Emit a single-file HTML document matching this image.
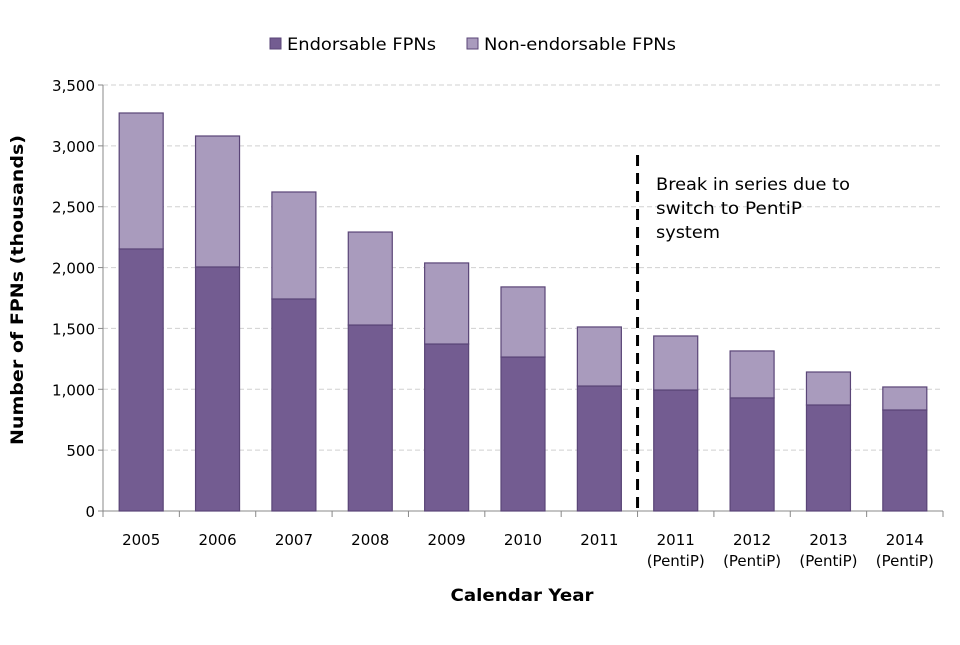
<!DOCTYPE html>
<html><head><meta charset="utf-8"><style>
body{margin:0;background:#fff;font-family:"Liberation Sans","DejaVu Sans",sans-serif}
svg text{font-family:"DejaVu Sans","Liberation Sans",sans-serif}
</style></head><body>
<svg id="c" width="960" height="640" viewBox="0 0 960 640"></svg>
<script>
const categories=["2005","2006","2007","2008","2009","2010","2011","2011|(PentiP)","2012|(PentiP)","2013|(PentiP)","2014|(PentiP)"];
const endorsable=[2153,2005,1742,1528,1372,1265,1027,994,929,871,830];
const nonEndorsable=[1117,1076,879,764,666,576,485,444,386,271,189];
const yTicks=[0,500,1000,1500,2000,2500,3000,3500];
const yTickLabels=["0","500","1,000","1,500","2,000","2,500","3,000","3,500"];
const svg=document.getElementById('c');
const NS="http://www.w3.org/2000/svg";
const X0=103,X1=943,Y0=511,Y1=85,YMAX=3500;
const step=(X1-X0)/categories.length;
const y=v=>Y0-(v/YMAX)*(Y0-Y1);
const xc=i=>X0+step*(i+0.5);
function mk(t,a,txt){const e=document.createElementNS(NS,t);for(const k in a)e.setAttribute(k,a[k]);if(txt!=null)e.textContent=txt;svg.appendChild(e);return e;}
yTicks.forEach((v,i)=>{
  if(v>0){const g=mk('line',{x1:X0,x2:X1,y1:y(v),y2:y(v),stroke:'#d0d0d0','stroke-dasharray':'5,3'});
  
  }
  const t=mk('text',{x:X0-8,y:y(v)+6,'text-anchor':'end','font-size':15,fill:'#000'},yTickLabels[i]);
  
  
});
mk('line',{x1:X0,x2:X0,y1:Y1,y2:Y0,stroke:'#888'});
mk('line',{x1:X0,x2:X1,y1:Y0,y2:Y0,stroke:'#888'});
for(let i=0;i<=categories.length;i++){mk('line',{x1:X0+step*i,x2:X0+step*i,y1:Y0,y2:Y0+6,stroke:'#888'});}
yTicks.forEach(v=>mk('line',{x1:X0-5,x2:X0,y1:y(v),y2:y(v),stroke:'#888'}));
const bw=44;
categories.forEach((c,i)=>{
  const e=mk('rect',{x:xc(i)-bw/2,y:y(endorsable[i]),width:bw,height:Y0-y(endorsable[i]),fill:'#735c91',stroke:'#5a4577','stroke-width':1.2});
  
  
  const tot=endorsable[i]+nonEndorsable[i];
  const n=mk('rect',{x:xc(i)-bw/2,y:y(tot),width:bw,height:y(endorsable[i])-y(tot),fill:'#a99bbd',stroke:'#5a4577','stroke-width':1.2});
  
  
  c.split('|').forEach((p,j)=>{
    const t=mk('text',{x:xc(i),y:545+j*21,'text-anchor':'middle','font-size':15,fill:'#000'},p);
    
    
  });
});
const br=mk('line',{x1:X0+step*7,x2:X0+step*7,y1:155,y2:Y0,stroke:'#000','stroke-width':3,'stroke-dasharray':'11,7'});


[["Break in series due to",194],["switch to PentiP",146],["system",64]].forEach(([s,w],j)=>{
  const t=mk('text',{x:656,y:190+j*24,'font-size':17,fill:'#000',textLength:w,lengthAdjust:'spacingAndGlyphs'},s);
  
  
});
const yt=mk('text',{x:0,y:0,'font-size':17,'font-weight':'bold','text-anchor':'middle',textLength:310,lengthAdjust:'spacingAndGlyphs',transform:'translate(23,290) rotate(-90)'},'Number of FPNs (thousands)');


const xt=mk('text',{x:522,y:601,'font-size':17,'font-weight':'bold','text-anchor':'middle',textLength:143,lengthAdjust:'spacingAndGlyphs'},'Calendar Year');


[[270,'#735c91','Endorsable FPNs',149],[467,'#a99bbd','Non-endorsable FPNs',192]].forEach(([lx,col,lab,w])=>{
  const r=mk('rect',{x:lx,y:38,width:11,height:11,fill:col,stroke:'#5a4577'});
  
  
  const t=mk('text',{x:lx+17,y:50,'font-size':17,textLength:w,lengthAdjust:'spacingAndGlyphs'},lab);
  
  
});
</script>
</body></html>
